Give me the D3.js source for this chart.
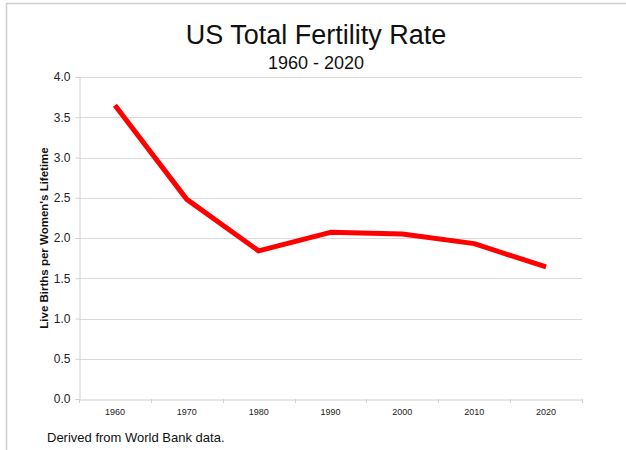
<!DOCTYPE html>
<html><head><meta charset="utf-8">
<script src="https://cdn.jsdelivr.net/npm/d3@7"></script>
<style>
html,body{margin:0;padding:0;background:#fff;}
svg{display:block;font-family:"Liberation Sans",Arial,sans-serif;}
</style></head>
<body><svg id="c" width="626" height="450"></svg>
<script>
const years = ["1960","1970","1980","1990","2000","2010","2020"];
const fertility = [3.65, 2.48, 1.84, 2.07, 2.05, 1.93, 1.64];
const yTicks = [0, 0.5, 1.0, 1.5, 2.0, 2.5, 3.0, 3.5, 4.0];

const svg = d3.select("#c");
const L = 79, R = 582, T = 77, B = 399;

// frame border
svg.append("line").attr("x1",6.5).attr("x2",6.5).attr("y1",3).attr("y2",450).attr("stroke","#cfcfcf").attr("stroke-width",1.5);
svg.append("line").attr("x1",6).attr("x2",626).attr("y1",3.5).attr("y2",3.5).attr("stroke","#cfcfcf").attr("stroke-width",1.5);

const x = d3.scaleBand().domain(years).range([L, R]);
const y = d3.scaleLinear().domain([0, 4]).range([B, T]);

// gridlines
svg.append("g").selectAll("line").data(yTicks.filter(d=>d>0)).join("line")
  .attr("x1", L).attr("x2", R).attr("y1", d=>Math.round(y(d))+0.5).attr("y2", d=>Math.round(y(d))+0.5)
  .attr("stroke","#d9d9d9").attr("stroke-width",1);

// y axis
const yAxis = svg.append("g").attr("transform",`translate(${L+0.5},0)`)
  .call(d3.axisLeft(y).tickValues(yTicks).tickFormat(d3.format(".1f")).tickSize(4).tickPadding(5));
yAxis.select(".domain").attr("stroke","#d0d0d0");
yAxis.selectAll(".tick line").attr("stroke","#d0d0d0");
yAxis.selectAll("text").attr("font-size","12px").attr("fill","#222").attr("font-family","Liberation Sans, Arial, sans-serif");

// x axis
const xAxis = svg.append("g").attr("transform",`translate(0,${B+0.5})`)
  .call(d3.axisBottom(x).tickSize(0).tickPadding(9));
xAxis.select(".domain").attr("stroke","#d0d0d0");
xAxis.selectAll("text").attr("font-size","9px").attr("fill","#222").attr("font-family","Liberation Sans, Arial, sans-serif");
// boundary ticks
const bounds = years.map(d=>x(d)).concat([x(years[years.length-1])+x.bandwidth()]);
svg.append("g").selectAll("line").data(bounds).join("line")
  .attr("x1", d=>Math.round(d)+0.5).attr("x2", d=>Math.round(d)+0.5)
  .attr("y1", B).attr("y2", B+4).attr("stroke","#d0d0d0");

// line
const line = d3.line().x((d,i)=>x(years[i])+x.bandwidth()/2).y(d=>y(d));
svg.append("path").datum(fertility).attr("d", line)
  .attr("fill","none").attr("stroke","#ff0000").attr("stroke-width",5)
  .attr("stroke-linejoin","round").attr("stroke-linecap","butt");

// titles
svg.append("text").attr("x",316).attr("y",44).attr("text-anchor","middle")
  .attr("font-size","27px").attr("fill","#111").text("US Total Fertility Rate");
svg.append("text").attr("x",316).attr("y",69).attr("text-anchor","middle")
  .attr("font-size","18px").attr("fill","#111").text("1960 - 2020");

// y label
svg.append("text").attr("transform",`translate(48,${(T+B)/2}) rotate(-90)`)
  .attr("text-anchor","middle").attr("font-size","11.5px").attr("font-weight","bold").attr("fill","#111")
  .text("Live Births per Women's Lifetime");

// footnote
svg.append("text").attr("x",47).attr("y",442).attr("font-size","13px").attr("fill","#111")
  .text("Derived from World Bank data.");
</script></body></html>
